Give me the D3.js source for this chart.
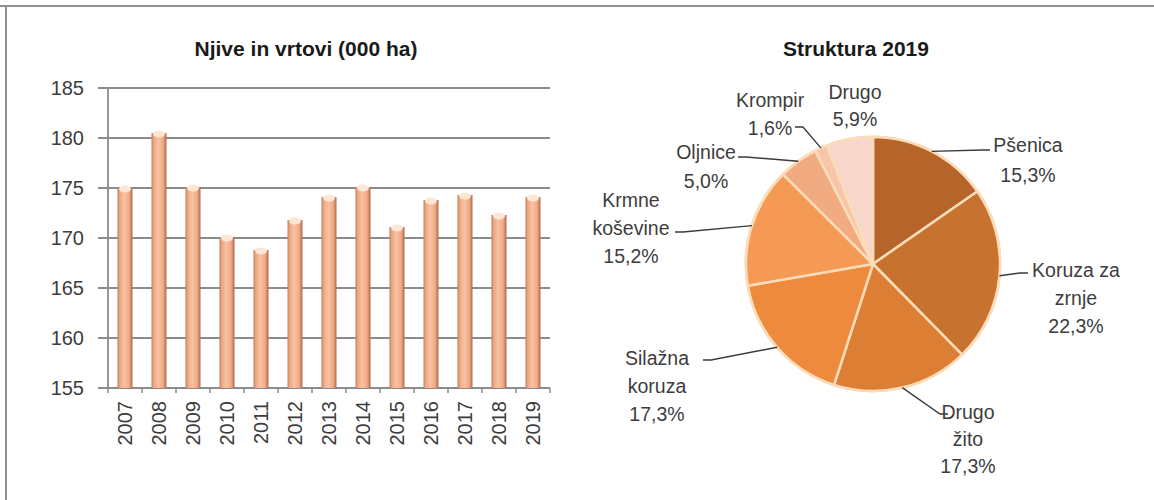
<!DOCTYPE html>
<html>
<head>
<meta charset="utf-8">
<script src="https://cdn.jsdelivr.net/npm/d3@7"></script>
<style>
    body { margin: 0; background: #fff; }
    svg { display: block; font-family: "Liberation Sans", Arial, sans-serif; }
</style>
</head>
<body>
<div id="chart"></div>
<script>
// ** Bar chart data */
const years = ['2007','2008','2009','2010','2011','2012','2013','2014','2015','2016','2017','2018','2019'];
const areaValues = [175.0, 180.5, 175.1, 170.1, 168.8, 171.8, 174.1, 175.1, 171.1, 173.8, 174.3, 172.3, 174.1];
const yTicks = [155, 160, 165, 170, 175, 180, 185];

// ** Pie chart data */
const crops = [['Pšenica'], ['Koruza za','zrnje'], ['Drugo','žito'], ['Silažna','koruza'], ['Krmne','koševine'], ['Oljnice'], ['Krompir'], ['Drugo']];
const shares = [15.3, 22.3, 17.3, 17.3, 15.2, 5.0, 1.6, 5.9];
const sliceColors = ['#b5642a','#c8722f','#dc7f35','#ee8a3d','#f59a55','#f2aa80','#f6c5aa','#f7d6cb'];

// ** Label layout relative to pie centre: text centre (x, y of first line), leader end (lx, ly) */
const labelLayout = [
    { x: 155, y: -119, gap: 30, lx: 117, ly: -114 },
    { x: 203, y: 6,    gap: 28, lx: 155, ly: 9 },
    { x: 95,  y: 148,  gap: 27, lx: 75,  ly: 150 },
    { x: -216, y: 94,  gap: 28, lx: -170, ly: 96 },
    { x: -242, y: -64, gap: 28, lx: -198, ly: -32 },
    { x: -167, y: -112, gap: 29, lx: -135, ly: -107 },
    { x: -103, y: -164, gap: 28, lx: -78, ly: -137 },
    { x: -18,  y: -172, gap: 27, lx: null, ly: null }
];

const width = 1154, height = 500;
const svg = d3.select('#chart')
              .append('svg')
              .attr('width', width)
              .attr('height', height)
              .attr('viewBox', `0 0 ${width} ${height}`);

// frame lines (top and left)
svg.append('line').attr('x1', 0).attr('x2', width).attr('y1', 6).attr('y2', 6)
   .attr('stroke', '#8f8f8f').attr('stroke-width', 2);
svg.append('line').attr('x1', 6).attr('x2', 6).attr('y1', 6).attr('y2', height)
   .attr('stroke', '#8f8f8f').attr('stroke-width', 2);

const textColor = '#3d3d3d';

function drawBars(){
    let x = d3.scaleBand()
              .domain(years)
              .range([108, 550])
              .paddingInner(0.56)
              .paddingOuter(0.28);
    let y = d3.scaleLinear()
              .domain([155, 185])
              .range([388, 88]);

    let defs = svg.append('defs');
    let grad = defs.append('linearGradient').attr('id', 'barGrad')
                   .attr('x1', '0%').attr('x2', '100%').attr('y1', '0%').attr('y2', '0%');
    [['0%','#b9795a'],['14%','#eea581'],['45%','#f9c2a2'],['78%','#f1a985'],['100%','#a9694b']]
        .forEach(([o, c]) => grad.append('stop').attr('offset', o).attr('stop-color', c));

    svg.append('text')
       .attr('x', 306).attr('y', 48)
       .attr('text-anchor', 'middle')
       .attr('dominant-baseline', 'central')
       .attr('font-size', 21).attr('font-weight', 'bold')
       .attr('fill', '#1a1a1a')
       .text('Njive in vrtovi (000 ha)');

    // gridlines + y labels
    svg.selectAll('.grid')
       .data(yTicks)
       .enter()
       .append('line')
          .attr('x1', 98).attr('x2', x.range()[1])
          .attr('y1', d => y(d)).attr('y2', d => y(d))
          .attr('stroke', '#8c8c8c').attr('stroke-width', 1.8);

    svg.selectAll('.ylab')
       .data(yTicks)
       .enter()
       .append('text')
          .attr('x', 84).attr('y', d => y(d))
          .attr('text-anchor', 'end')
          .attr('dominant-baseline', 'central')
          .attr('font-size', 20)
          .attr('fill', textColor)
          .text(d => d);

    // y axis line
    svg.append('line')
       .attr('x1', x.range()[0]).attr('x2', x.range()[0])
       .attr('y1', y(185)).attr('y2', y(155))
       .attr('stroke', '#8c8c8c').attr('stroke-width', 1.8);

    // x ticks on band boundaries
    svg.selectAll('.xtick')
       .data(d3.range(years.length + 1))
       .enter()
       .append('line')
          .attr('x1', i => x.range()[0] + i * x.step())
          .attr('x2', i => x.range()[0] + i * x.step())
          .attr('y1', y(155)).attr('y2', y(155) + 5)
          .attr('stroke', '#8c8c8c').attr('stroke-width', 1.5);

    let bars = svg.selectAll('.bar')
                  .data(years.map((yr, i) => ({ year: yr, value: areaValues[i] })))
                  .enter()
                  .append('g');

    bars.append('rect')
        .attr('x', d => x(d.year))
        .attr('y', d => y(d.value))
        .attr('width', x.bandwidth())
        .attr('height', d => y(155) - y(d.value))
        .attr('fill', 'url(#barGrad)');

    bars.append('ellipse')
        .attr('cx', d => x(d.year) + x.bandwidth() / 2)
        .attr('cy', d => y(d.value) + 1)
        .attr('rx', x.bandwidth() / 2 - 1.5)
        .attr('ry', 3.5)
        .attr('fill', '#fde6d6');

    svg.selectAll('.xlab')
       .data(years)
       .enter()
       .append('text')
          .attr('transform', d => `translate(${x(d) + x.bandwidth() / 2},401) rotate(-90)`)
          .attr('text-anchor', 'end')
          .attr('dominant-baseline', 'central')
          .attr('font-size', 20)
          .attr('fill', textColor)
          .text(d => d);
}

function drawPie(){
    let cx = 873, cy = 264, r = 127;
    let g = svg.append('g').attr('transform', `translate(${cx},${cy})`);

    svg.append('text')
       .attr('x', 856).attr('y', 48)
       .attr('text-anchor', 'middle')
       .attr('dominant-baseline', 'central')
       .attr('font-size', 21).attr('font-weight', 'bold')
       .attr('fill', '#1a1a1a')
       .text('Struktura 2019');

    let pie = d3.pie().sort(null).value(d => d);
    let arcs = pie(shares);
    let arc = d3.arc().innerRadius(0).outerRadius(r);
    let edge = d3.arc().innerRadius(r).outerRadius(r);

    g.append('circle').attr('r', r + 1.5).attr('fill', '#f7cfa8');

    g.selectAll('path')
     .data(arcs)
     .enter()
     .append('path')
        .attr('d', arc)
        .attr('fill', (d, i) => sliceColors[i])
        .attr('stroke', '#fbdcb9')
        .attr('stroke-width', 2.5)
        .attr('stroke-linejoin', 'round');

    let fmt = v => d3.format('.1f')(v).replace('.', ',') + '%';

    arcs.forEach((d, i) => {
        let lay = labelLayout[i];
        let lines = crops[i].concat([fmt(shares[i])]);

        if (lay.lx !== null){
            let [px, py] = edge.centroid(d);
            let side = lay.lx > 0 ? -1 : 1;
            g.append('path')
             .attr('d', d3.line()([[px, py], [lay.lx + side * 8, lay.ly], [lay.lx, lay.ly]]))
             .attr('fill', 'none')
             .attr('stroke', '#3a3a3a')
             .attr('stroke-width', 1.4);
        }

        g.selectAll(null)
         .data(lines)
         .enter()
         .append('text')
            .attr('x', lay.x)
            .attr('y', (t, j) => lay.y + j * lay.gap)
            .attr('text-anchor', 'middle')
            .attr('dominant-baseline', 'central')
            .attr('font-size', 19.5)
            .attr('fill', textColor)
            .text(t => t);
    });
}

drawBars();
drawPie();
</script>
</body>
</html>
